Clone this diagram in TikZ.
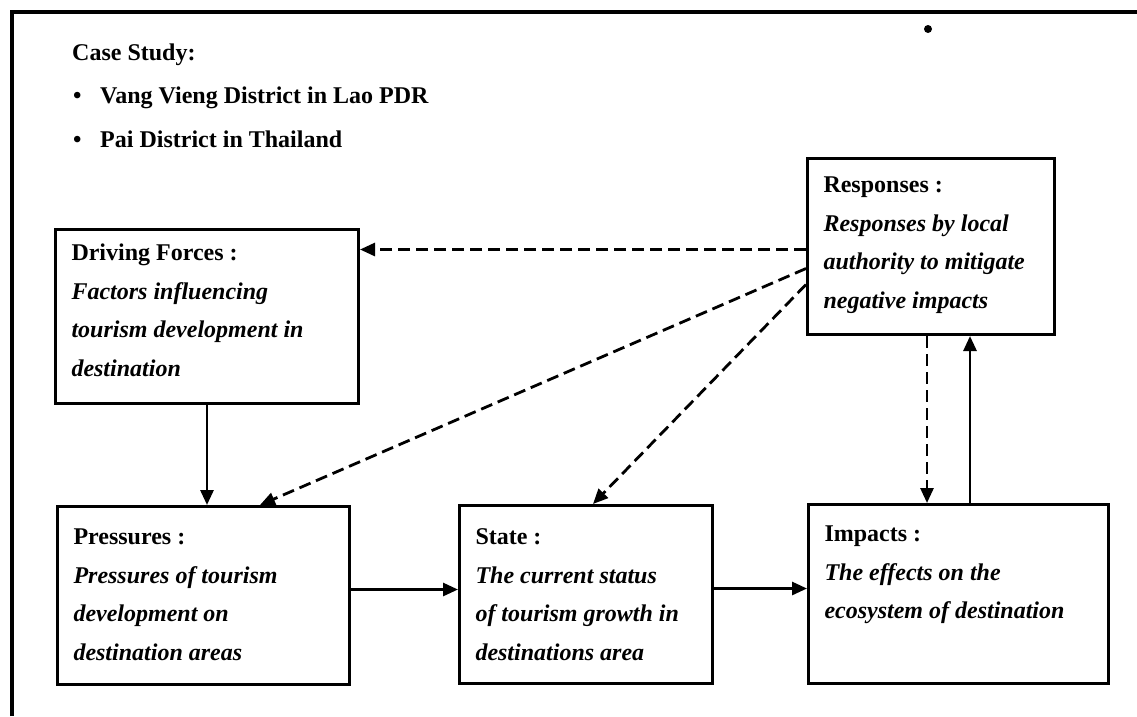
\documentclass[tikz,border=0pt]{standalone}
\usepackage{fontspec}
\setmainfont{Liberation Serif}
\usetikzlibrary{arrows.meta,calc}

% text block of a panel: width, height, first baseline offset, lines
\newcommand{\panelbody}[4]{%
  \parbox[t][#2][t]{#1}{\fontsize{24pt}{38.5pt}\selectfont\raggedright
    \rule{0pt}{#3}#4}}
\newcommand{\panelhead}[1]{\textbf{#1}}
\newcommand{\paneldesc}[1]{\textbf{\textit{#1}}}

\begin{document}
\begin{tikzpicture}[x=1pt,y=-1pt,
  panel/.style={draw, line width=3pt, inner xsep=16pt, inner ysep=0pt,
    anchor=north west, fill=white},
  link/.style={line width=2.8pt, -{Triangle[length=15pt,width=13pt]}},
  hint/.style={link, dash pattern=on 12pt off 6pt},
  note/.style={anchor=base west, inner sep=0pt,
    font=\fontsize{24pt}{24pt}\selectfont\bfseries}]

\useasboundingbox (0,0) rectangle (1137,716);
\fill[white] (0,0) rectangle (1137,716);

% outer frame
\draw[line width=4pt] (12,716) -- (12,12) -- (1137,12);
\fill (928,29) circle[radius=4pt];

% case study list
\node[note] (cs) at (72,60) {Case Study:};
\node[note] (b1) at (73,103) {\textbullet};
\node[note] (l1) at (100,103) {Vang Vieng District in Lao PDR};
\node[note] (b2) at (73,147) {\textbullet};
\node[note] (l2) at (100,147) {Pai District in Thailand};

% DPSIR panels
\node[panel] (df) at (54,228) {\panelbody{271pt}{174pt}{31pt}{%
  \panelhead{Driving Forces :}\\
  \paneldesc{Factors influencing}\\
  \paneldesc{tourism development in}\\
  \paneldesc{destination}}};

\node[panel] (r) at (806,157) {\panelbody{215pt}{176pt}{34pt}{%
  \panelhead{Responses :}\\
  \paneldesc{Responses by local}\\
  \paneldesc{authority to mitigate}\\
  \paneldesc{negative impacts}}};

\node[panel] (p) at (56,505) {\panelbody{260pt}{178pt}{38pt}{%
  \panelhead{Pressures :}\\
  \paneldesc{Pressures of tourism}\\
  \paneldesc{development on}\\
  \paneldesc{destination areas}}};

\node[panel] (s) at (458,504) {\panelbody{221pt}{178pt}{39pt}{%
  \panelhead{State :}\\
  \paneldesc{The current status}\\
  \paneldesc{of tourism growth in}\\
  \paneldesc{destinations area}}};

\node[panel] (i) at (807,503) {\panelbody{268pt}{179pt}{37pt}{%
  \panelhead{Impacts :}\\
  \paneldesc{The effects on the}\\
  \paneldesc{ecosystem of destination}}};

% causal chain
\draw[link] ([xshift=153pt]df.south west) -- ([xshift=153pt]df.south west |- p.north);
\draw[link] ([yshift=6pt]p.east) -- ([yshift=6pt]p.east -| s.west);
\draw[link] ([yshift=6pt]s.east) -- ([yshift=6pt]s.east -| i.west);
\draw[link] ([xshift=163pt]i.north west) -- ([xshift=163pt]i.north west |- r.south);

% feedback of responses
\draw[hint] ([xshift=121pt]r.south west) -- ([xshift=121pt]r.south west |- i.north);
\draw[hint] ([yshift=-3pt]r.west) -- ([yshift=-3pt]r.west -| df.east);
\draw[hint] ([yshift=-22pt]r.west) -- ([xshift=204pt]p.north west);
\draw[hint] ([yshift=-38pt]r.west) -- ([xshift=135pt]s.north west);
\end{tikzpicture}
\end{document}
